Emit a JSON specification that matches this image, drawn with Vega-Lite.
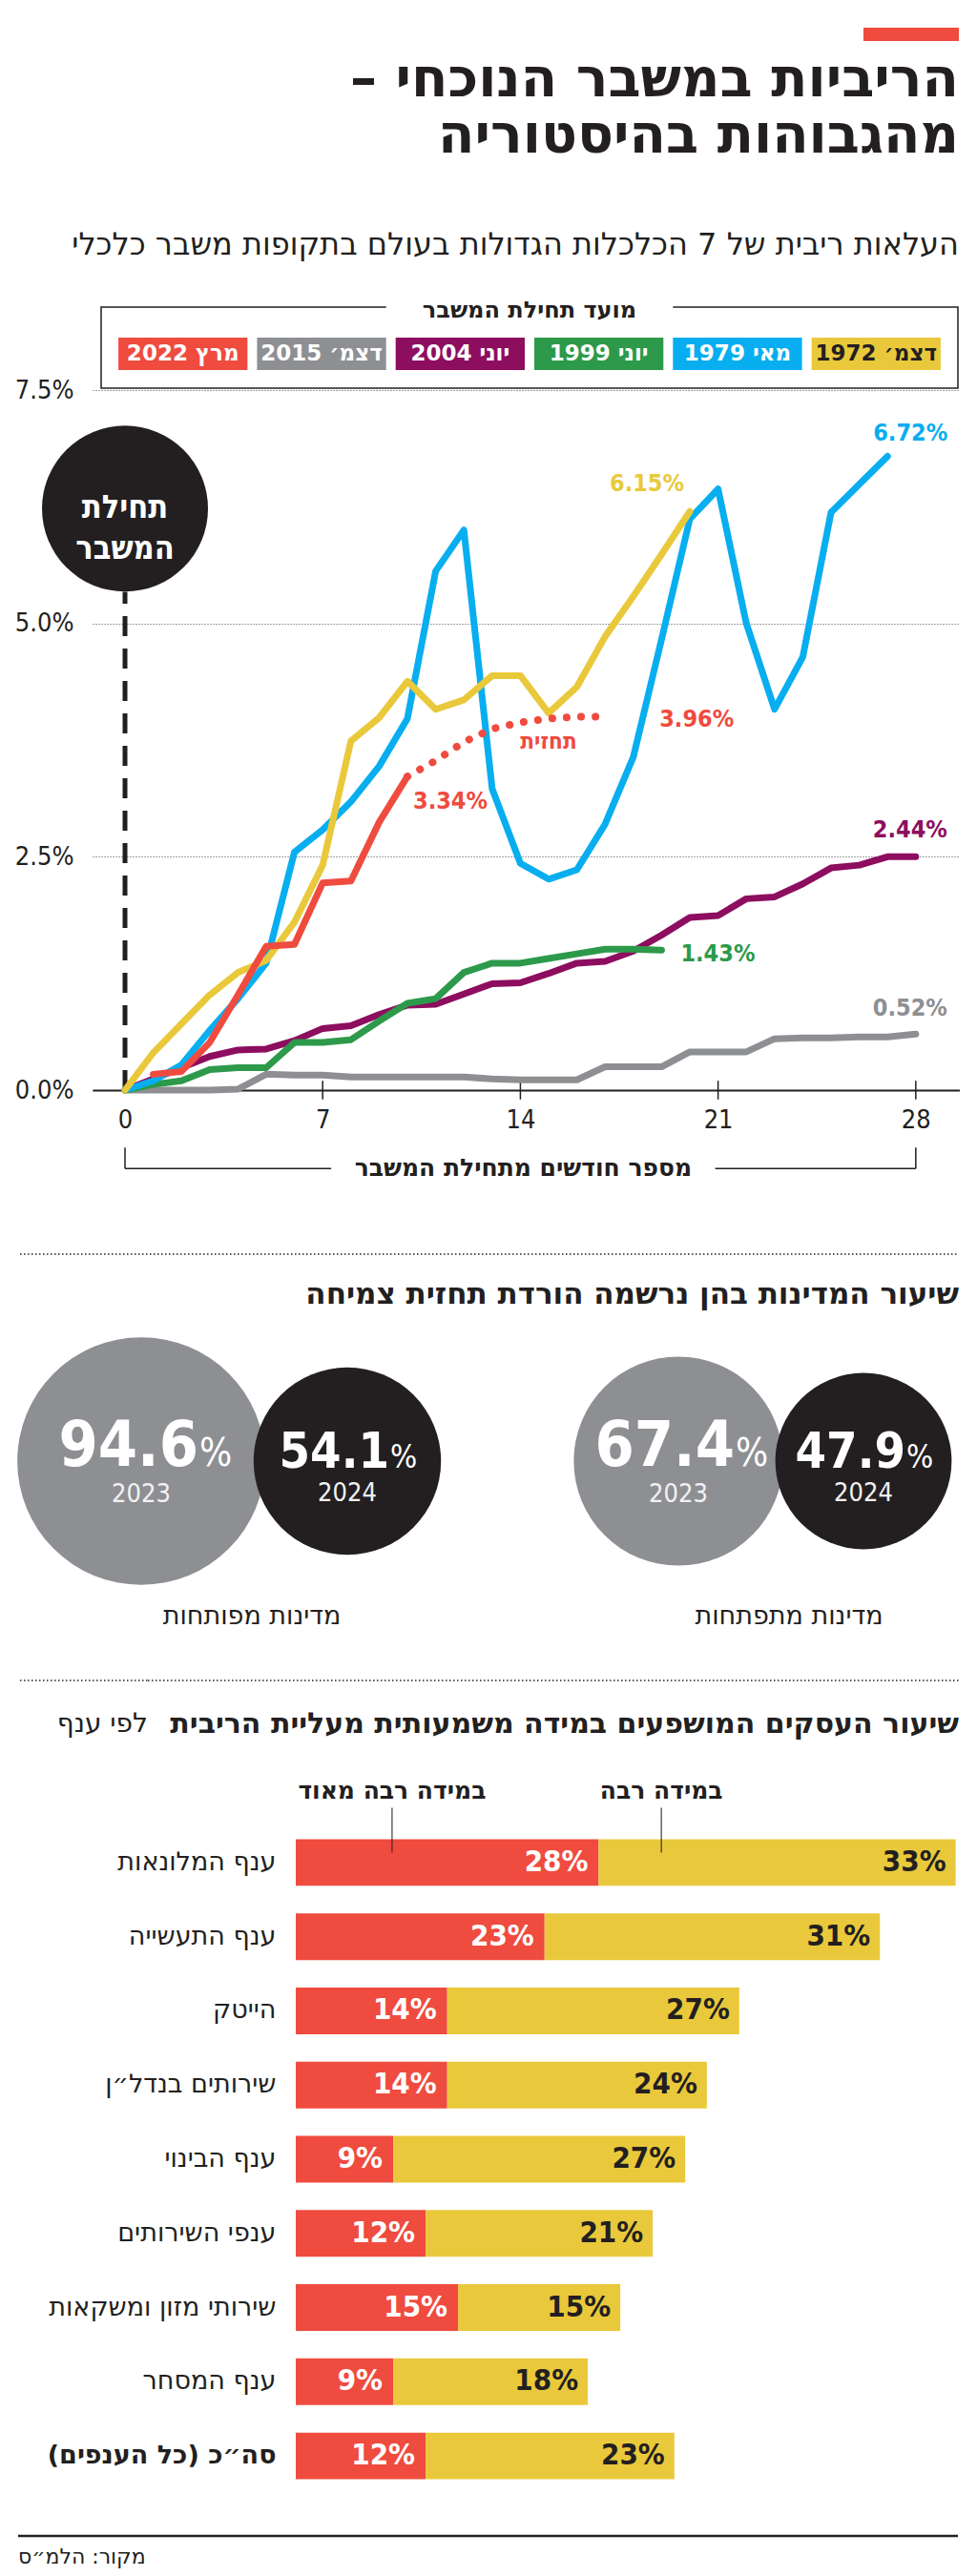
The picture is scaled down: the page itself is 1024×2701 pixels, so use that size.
{
"$schema": "https://vega.github.io/schema/vega-lite/v6.json",
"background": "#ffffff",
"padding": 0,
"bounds": "flush",
"spacing": 0,
"resolve": {"scale": {"color": "independent", "size": "independent"}},
"config": {
  "view": {"stroke": null},
  "font": "DejaVu Sans Condensed",
  "concat": {"spacing": 0},
  "title": {"font": "DejaVu Sans", "color": "#231f20", "frame": "group"},
  "axis": {"labelFont": "DejaVu Sans Condensed", "titleFont": "DejaVu Sans Condensed"},
  "text": {"font": "DejaVu Sans Condensed"}
},
"datasets": {
  "lines": [
    {"m":0,"דצמ׳ 2015":0,"יוני 2004":0,"יוני 1999":0,"מאי 1979":0,"דצמ׳ 1972":0},
    {"m":1,"דצמ׳ 2015":0,"יוני 2004":0.12,"יוני 1999":0.06,"מאי 1979":0.10,"דצמ׳ 1972":0.40,"מרץ 2022":0.17},
    {"m":2,"דצמ׳ 2015":0,"יוני 2004":0.24,"יוני 1999":0.10,"מאי 1979":0.27,"דצמ׳ 1972":0.71,"מרץ 2022":0.20},
    {"m":3,"דצמ׳ 2015":0,"יוני 2004":0.36,"יוני 1999":0.22,"מאי 1979":0.64,"דצמ׳ 1972":1.02,"מרץ 2022":0.51},
    {"m":4,"דצמ׳ 2015":0.01,"יוני 2004":0.43,"יוני 1999":0.24,"מאי 1979":0.98,"דצמ׳ 1972":1.26,"מרץ 2022":1.02},
    {"m":5,"דצמ׳ 2015":0.17,"יוני 2004":0.44,"יוני 1999":0.24,"מאי 1979":1.36,"דצמ׳ 1972":1.39,"מרץ 2022":1.54},
    {"m":6,"דצמ׳ 2015":0.16,"יוני 2004":0.53,"יוני 1999":0.51,"מאי 1979":2.55,"דצמ׳ 1972":1.80,"מרץ 2022":1.56},
    {"m":7,"דצמ׳ 2015":0.16,"יוני 2004":0.66,"יוני 1999":0.51,"מאי 1979":2.79,"דצמ׳ 1972":2.41,"מרץ 2022":2.22},
    {"m":8,"דצמ׳ 2015":0.14,"יוני 2004":0.69,"יוני 1999":0.54,"מאי 1979":3.09,"דצמ׳ 1972":3.74,"מרץ 2022":2.24},
    {"m":9,"דצמ׳ 2015":0.14,"יוני 2004":0.81,"יוני 1999":0.74,"מאי 1979":3.47,"דצמ׳ 1972":3.99,"מרץ 2022":2.87},
    {"m":10,"דצמ׳ 2015":0.14,"יוני 2004":0.91,"יוני 1999":0.93,"מאי 1979":3.98,"דצמ׳ 1972":4.38,"מרץ 2022":3.36},
    {"m":11,"דצמ׳ 2015":0.14,"יוני 2004":0.92,"יוני 1999":0.98,"מאי 1979":5.56,"דצמ׳ 1972":4.08},
    {"m":12,"דצמ׳ 2015":0.14,"יוני 2004":1.03,"יוני 1999":1.26,"מאי 1979":6.00,"דצמ׳ 1972":4.18},
    {"m":13,"דצמ׳ 2015":0.12,"יוני 2004":1.14,"יוני 1999":1.36,"מאי 1979":3.23,"דצמ׳ 1972":4.44},
    {"m":14,"דצמ׳ 2015":0.11,"יוני 2004":1.15,"יוני 1999":1.36,"מאי 1979":2.43,"דצמ׳ 1972":4.44},
    {"m":15,"דצמ׳ 2015":0.11,"יוני 2004":1.25,"יוני 1999":1.41,"מאי 1979":2.26,"דצמ׳ 1972":4.04},
    {"m":16,"דצמ׳ 2015":0.11,"יוני 2004":1.36,"יוני 1999":1.46,"מאי 1979":2.36,"דצמ׳ 1972":4.32},
    {"m":17,"דצמ׳ 2015":0.25,"יוני 2004":1.38,"יוני 1999":1.51,"מאי 1979":2.85,"דצמ׳ 1972":4.86},
    {"m":18,"דצמ׳ 2015":0.25,"יוני 2004":1.49,"יוני 1999":1.51,"מאי 1979":3.57,"דצמ׳ 1972":5.29},
    {"m":19,"דצמ׳ 2015":0.25,"יוני 2004":1.66,"יוני 1999":1.50,"מאי 1979":4.83,"דצמ׳ 1972":5.74},
    {"m":20,"דצמ׳ 2015":0.41,"יוני 2004":1.85,"מאי 1979":6.12,"דצמ׳ 1972":6.20},
    {"m":21,"דצמ׳ 2015":0.41,"יוני 2004":1.87,"מאי 1979":6.44},
    {"m":22,"דצמ׳ 2015":0.41,"יוני 2004":2.05,"מאי 1979":5.00},
    {"m":23,"דצמ׳ 2015":0.55,"יוני 2004":2.07,"מאי 1979":4.08},
    {"m":24,"דצמ׳ 2015":0.56,"יוני 2004":2.21,"מאי 1979":4.64},
    {"m":25,"דצמ׳ 2015":0.56,"יוני 2004":2.38,"מאי 1979":6.19},
    {"m":26,"דצמ׳ 2015":0.57,"יוני 2004":2.41,"מאי 1979":6.49},
    {"m":27,"דצמ׳ 2015":0.57,"יוני 2004":2.50,"מאי 1979":6.79},
    {"m":28,"דצמ׳ 2015":0.60,"יוני 2004":2.50}
  ],
  "forecast": [
    {"m":10,"v":3.36},{"m":11,"v":3.53},{"m":12,"v":3.73},{"m":13,"v":3.87},
    {"m":14,"v":3.94},{"m":15,"v":3.98},{"m":16,"v":4.0},{"m":17,"v":4.0}
  ],
  "labels": [
    {"s":"מאי 1979","label":"6.72%","m":27,"v":6.79},
    {"s":"דצמ׳ 1972","label":"6.15%","m":20,"v":6.20},
    {"s":"מרץ 2022","label":"3.96%","m":17,"v":4.0},
    {"s":"מרץ 2022","label":"3.34%","m":10,"v":3.36},
    {"s":"יוני 2004","label":"2.44%","m":28,"v":2.50},
    {"s":"יוני 1999","label":"1.43%","m":19,"v":1.50},
    {"s":"דצמ׳ 2015","label":"0.52%","m":28,"v":0.60},
    {"s":"מרץ 2022","label":"תחזית","m":15,"v":3.98}
  ],
  "legend": [
    {"s":"מרץ 2022"},{"s":"דצמ׳ 2015"},{"s":"יוני 2004"},{"s":"יוני 1999"},{"s":"מאי 1979"},{"s":"דצמ׳ 1972"}
  ],
  "bubbles": [
    {"g":"מדינות מפותחות","year":"2023","value":94.6},
    {"g":"מדינות מפותחות","year":"2024","value":54.1},
    {"g":"מדינות מתפתחות","year":"2023","value":67.4},
    {"g":"מדינות מתפתחות","year":"2024","value":47.9}
  ],
  "bars": [
    {"cat":"ענף המלונאות","very":0.28,"much":0.33},
    {"cat":"ענף התעשייה","very":0.23,"much":0.31},
    {"cat":"הייטק","very":0.14,"much":0.27},
    {"cat":"שירותים בנדל״ן","very":0.14,"much":0.24},
    {"cat":"ענף הבינוי","very":0.09,"much":0.27},
    {"cat":"ענפי השירותים","very":0.12,"much":0.21},
    {"cat":"שירותי מזון ומשקאות","very":0.15,"much":0.15},
    {"cat":"ענף המסחר","very":0.09,"much":0.18},
    {"cat":"סה״כ (כל הענפים)\u200f","very":0.12,"much":0.23}
  ]
},
"vconcat": [
  {"width": 10, "height": 29, "data": {"values": []}, "mark": "point"},
  {"hconcat": [
    {"width": 905, "height": 14, "data": {"values": []}, "mark": "point"},
    {"width": 100, "height": 14, "view": {"fill": "#ef4b3f", "stroke": null},
     "data": {"values": []}, "mark": "point",
     "title": {"text": ["הריביות במשבר הנוכחי –\u200f", "מהגבוהות בהיסטוריה"],
       "subtitle": "העלאות ריבית של 7 הכלכלות הגדולות בעולם בתקופות משבר כלכלי",
       "orient": "bottom", "anchor": "end", "frame": "group", "offset": 14,
       "font": "DejaVu Sans", "fontSize": 56, "fontWeight": "bold", "lineHeight": 59,
       "subtitleFont": "DejaVu Sans", "subtitleFontSize": 32, "subtitleColor": "#231f20",
       "subtitleFontWeight": "normal", "subtitlePadding": 70}}
  ], "bounds": "flush", "spacing": 0},
  {"width": 10, "height": 293, "data": {"values": []}, "mark": "point"},
  {"hconcat": [
    {"width": 106, "height": 85, "data": {"values": []}, "mark": "point"},
    {"width": 898, "height": 85,
     "view": {"stroke": "#231f20", "strokeWidth": 1.5},
     "title": {"text": "מועד תחילת המשבר", "orient": "top", "anchor": "middle", "frame": "group", "offset": -28, "font": "DejaVu Sans", "fontSize": 24, "fontWeight": "bold"},
     "layer": [
       {"data": {"values": [{}]}, "mark": {"type": "rect", "color": "#ffffff"},
        "encoding": {
          "x": {"datum": "דצמ׳ 2015", "type": "nominal", "bandPosition": 1,
                "scale": {"type": "band", "domain": ["מרץ 2022","דצמ׳ 2015","יוני 2004","יוני 1999","מאי 1979","דצמ׳ 1972"], "paddingInner": 0.069, "paddingOuter": 0.1245}, "axis": null},
          "x2": {"datum": "מאי 1979", "bandPosition": 0},
          "y": {"value": -12}, "y2": {"value": 12}}},
       {"data": {"name": "legend"}, "mark": {"type": "rect"},
        "encoding": {
          "x": {"field": "s", "type": "nominal", "scale": {"type": "band", "domain": ["מרץ 2022","דצמ׳ 2015","יוני 2004","יוני 1999","מאי 1979","דצמ׳ 1972"], "paddingInner": 0.069, "paddingOuter": 0.1245}, "axis": null},
          "y": {"datum": "row", "type": "nominal", "scale": {"type": "band", "domain": ["row"], "paddingInner": 0, "paddingOuter": 0.75, "align": 0.627}, "axis": null},
          "color": {"field": "s", "type": "nominal", "scale": {"domain": ["דצמ׳ 1972","מאי 1979","יוני 1999","יוני 2004","דצמ׳ 2015","מרץ 2022"], "range": ["#e9c93b","#08aeef","#2c9a4a","#8d0d5f","#8e8f93","#ef4b3f"]}, "legend": null}}},
       {"data": {"name": "legend"}, "transform": [{"filter": {"not": {"field": "s", "equal": "דצמ׳ 1972"}}}],
        "mark": {"type": "text", "font": "DejaVu Sans", "color": "#ffffff", "fontSize": 23, "fontWeight": "bold", "baseline": "middle"},
        "encoding": {"x": {"field": "s", "type": "nominal"}, "y": {"datum": "row", "type": "nominal"}, "text": {"field": "s"}}},
       {"data": {"name": "legend"}, "transform": [{"filter": {"field": "s", "equal": "דצמ׳ 1972"}}],
        "mark": {"type": "text", "font": "DejaVu Sans", "color": "#231f20", "fontSize": 23, "fontWeight": "bold", "baseline": "middle"},
        "encoding": {"x": {"field": "s", "type": "nominal"}, "y": {"datum": "row", "type": "nominal"}, "text": {"field": "s"}}}
     ]}
  ], "bounds": "flush", "spacing": 0},
  {"width": 10, "height": 87, "data": {"values": []}, "mark": "point"},
  {"hconcat": [
    {"width": 97, "height": 734, "data": {"values": []}, "mark": "point"},
    {"width": 909, "height": 734,
     "layer": [
       {"data": {"values": [{}]}, "mark": {"type": "rule", "color": "#231f20", "strokeWidth": 5, "strokeDash": [21, 13]},
        "encoding": {
          "x": {"datum": 0, "type": "quantitative", "scale": {"domain": [-1.149, 29.56], "nice": false, "zero": false},
                "axis": {"values": [0,7,14,21,28], "ticks": false, "grid": false, "domainColor": "#231f20", "domainWidth": 2, "labelFontSize": 27, "labelColor": "#231f20", "labelPadding": 18, "labelFlush": false, "title": null}},
          "y": {"datum": 0, "type": "quantitative", "scale": {"domain": [0, 7.5], "nice": false, "zero": false},
                "axis": {"values": [0, 2.5, 5, 7.5], "labelExpr": "format(datum.value, '.1f') + '%'", "domain": false, "ticks": false, "grid": true, "gridDash": [1, 2], "gridColor": "#444444", "gridWidth": 1, "labelFontSize": 27, "labelColor": "#231f20", "labelPadding": 20, "title": null}},
          "y2": {"datum": 5.34}}},
       {"data": {"values": [{}]}, "mark": {"type": "point", "shape": "circle", "filled": true, "opacity": 1, "size": 30276, "color": "#231f20"},
        "encoding": {"x": {"datum": 0, "type": "quantitative"}, "y": {"datum": 6.23, "type": "quantitative"}}},
       {"data": {"values": [{}]}, "mark": {"type": "text", "text": ["תחילת", "המשבר"], "color": "#ffffff", "fontSize": 34, "fontWeight": "bold", "lineHeight": 43, "baseline": "middle", "align": "center"},
        "encoding": {"x": {"datum": 0, "type": "quantitative"}, "y": {"datum": 6.23, "type": "quantitative"}}},
       {"data": {"values": [{"m":7},{"m":14},{"m":21},{"m":28}]}, "mark": {"type": "rule", "color": "#231f20", "strokeWidth": 1.5},
        "encoding": {"x": {"field": "m", "type": "quantitative"}, "y": {"datum": -0.1, "type": "quantitative"}, "y2": {"datum": 0.1}}},
       {"data": {"values": [{}]}, "mark": {"type": "rule", "color": "#231f20", "strokeWidth": 1.5},
        "encoding": {"x": {"datum": 0, "type": "quantitative"}, "x2": {"datum": 7.3}, "y": {"datum": -0.84, "type": "quantitative"}}},
       {"data": {"values": [{}]}, "mark": {"type": "rule", "color": "#231f20", "strokeWidth": 1.5},
        "encoding": {"x": {"datum": 20.9, "type": "quantitative"}, "x2": {"datum": 28}, "y": {"datum": -0.84, "type": "quantitative"}}},
       {"data": {"values": [{}]}, "mark": {"type": "rule", "color": "#231f20", "strokeWidth": 1.5},
        "encoding": {"x": {"datum": 0, "type": "quantitative"}, "y": {"datum": -0.84, "type": "quantitative"}, "y2": {"datum": -0.615}}},
       {"data": {"values": [{}]}, "mark": {"type": "rule", "color": "#231f20", "strokeWidth": 1.5},
        "encoding": {"x": {"datum": 28, "type": "quantitative"}, "y": {"datum": -0.84, "type": "quantitative"}, "y2": {"datum": -0.615}}},
       {"data": {"values": [{}]}, "mark": {"type": "text", "text": "מספר חודשים מתחילת המשבר", "font": "DejaVu Sans", "color": "#231f20", "fontSize": 25, "fontWeight": "bold", "baseline": "middle", "align": "center"},
        "encoding": {"x": {"datum": 14.1, "type": "quantitative"}, "y": {"datum": -0.84, "type": "quantitative"}}},
       {"data": {"name": "lines"},
        "transform": [{"fold": ["דצמ׳ 2015","יוני 2004","יוני 1999","מאי 1979","דצמ׳ 1972","מרץ 2022"], "as": ["s", "v"]}, {"filter": {"field": "v", "valid": true}}],
        "mark": {"type": "line", "strokeWidth": 7, "strokeCap": "round", "strokeJoin": "round"},
        "encoding": {
          "x": {"field": "m", "type": "quantitative"},
          "y": {"field": "v", "type": "quantitative"},
          "color": {"field": "s", "type": "nominal", "sort": null, "scale": {"domain": ["דצמ׳ 1972","מאי 1979","יוני 1999","יוני 2004","דצמ׳ 2015","מרץ 2022"], "range": ["#e9c93b","#08aeef","#2c9a4a","#8d0d5f","#8e8f93","#ef4b3f"]}, "legend": null}}},
       {"data": {"name": "forecast"}, "mark": {"type": "line", "color": "#ef4b3f", "strokeWidth": 8, "strokeCap": "round", "strokeDash": [0.1, 15]},
        "encoding": {"x": {"field": "m", "type": "quantitative"}, "y": {"field": "v", "type": "quantitative"}}},
       {"data": {"name": "labels"}, "transform": [{"filter": {"field": "label", "equal": "6.72%"}}],
        "mark": {"type": "text", "fontSize": 25, "fontWeight": "bold", "dx": 24, "dy": -24},
        "encoding": {"x": {"field": "m", "type": "quantitative"}, "y": {"field": "v", "type": "quantitative"}, "text": {"field": "label"}, "color": {"field": "s", "type": "nominal", "legend": null}}},
       {"data": {"name": "labels"}, "transform": [{"filter": {"field": "label", "equal": "6.15%"}}],
        "mark": {"type": "text", "fontSize": 25, "fontWeight": "bold", "dx": -45, "dy": -29},
        "encoding": {"x": {"field": "m", "type": "quantitative"}, "y": {"field": "v", "type": "quantitative"}, "text": {"field": "label"}, "color": {"field": "s", "type": "nominal", "legend": null}}},
       {"data": {"name": "labels"}, "transform": [{"filter": {"field": "label", "equal": "3.96%"}}],
        "mark": {"type": "text", "fontSize": 25, "fontWeight": "bold", "dx": 96, "dy": 2},
        "encoding": {"x": {"field": "m", "type": "quantitative"}, "y": {"field": "v", "type": "quantitative"}, "text": {"field": "label"}, "color": {"field": "s", "type": "nominal", "legend": null}}},
       {"data": {"name": "labels"}, "transform": [{"filter": {"field": "label", "equal": "3.34%"}}],
        "mark": {"type": "text", "fontSize": 25, "fontWeight": "bold", "dx": 45, "dy": 26},
        "encoding": {"x": {"field": "m", "type": "quantitative"}, "y": {"field": "v", "type": "quantitative"}, "text": {"field": "label"}, "color": {"field": "s", "type": "nominal", "legend": null}}},
       {"data": {"name": "labels"}, "transform": [{"filter": {"field": "label", "equal": "2.44%"}}],
        "mark": {"type": "text", "fontSize": 25, "fontWeight": "bold", "dx": -6, "dy": -28},
        "encoding": {"x": {"field": "m", "type": "quantitative"}, "y": {"field": "v", "type": "quantitative"}, "text": {"field": "label"}, "color": {"field": "s", "type": "nominal", "legend": null}}},
       {"data": {"name": "labels"}, "transform": [{"filter": {"field": "label", "equal": "1.43%"}}],
        "mark": {"type": "text", "fontSize": 25, "fontWeight": "bold", "dx": 59, "dy": 4},
        "encoding": {"x": {"field": "m", "type": "quantitative"}, "y": {"field": "v", "type": "quantitative"}, "text": {"field": "label"}, "color": {"field": "s", "type": "nominal", "legend": null}}},
       {"data": {"name": "labels"}, "transform": [{"filter": {"field": "label", "equal": "0.52%"}}],
        "mark": {"type": "text", "fontSize": 25, "fontWeight": "bold", "dx": -6, "dy": -27},
        "encoding": {"x": {"field": "m", "type": "quantitative"}, "y": {"field": "v", "type": "quantitative"}, "text": {"field": "label"}, "color": {"field": "s", "type": "nominal", "legend": null}}},
       {"data": {"name": "labels"}, "transform": [{"filter": {"field": "label", "equal": "תחזית"}}],
        "mark": {"type": "text", "fontSize": 24, "fontWeight": "bold", "dx": 0, "dy": 25},
        "encoding": {"x": {"field": "m", "type": "quantitative"}, "y": {"field": "v", "type": "quantitative"}, "text": {"field": "label"}, "color": {"field": "s", "type": "nominal", "legend": null}}}
     ]}
  ], "bounds": "flush", "spacing": 0},
  {"width": 10, "height": 906, "data": {"values": []}, "mark": "point"},
  {"hconcat": [
    {"width": 21, "height": 1, "data": {"values": []}, "mark": "point"},
    {"width": 984, "height": 1, "data": {"values": [{}]},
     "mark": {"type": "rule", "color": "#231f20", "strokeWidth": 1.5, "strokeDash": [1.5, 2.5]},
     "encoding": {"x": {"value": 0}, "x2": {"value": "width"}, "y": {"value": 0}},
     "title": {"text": "שיעור המדינות בהן נרשמה הורדת תחזית צמיחה", "orient": "bottom", "anchor": "end", "frame": "group", "offset": 27, "fontSize": 31, "fontWeight": "bold"}}
  ], "bounds": "flush", "spacing": 0},
  {"width": 10, "height": 77, "data": {"values": []}, "mark": "point"},
  {"hconcat": [
    {"width": 40, "height": 280, "data": {"values": []}, "mark": "point"},
    {"width": 432, "height": 280, "data": {"name": "bubbles"},
     "transform": [{"filter": {"field": "g", "equal": "מדינות מפותחות"}}],
     "title": {"text": "מדינות מפותחות", "orient": "bottom", "anchor": "middle", "frame": "group", "offset": 10, "fontSize": 27, "fontWeight": "normal", "dx": 8},
     "encoding": {"x": {"field": "year", "type": "ordinal", "scale": {"type": "point", "padding": 0.5}, "axis": null}},
     "layer": [
       {"mark": {"type": "circle", "opacity": 1},
        "encoding": {"size": {"field": "value", "type": "quantitative", "scale": {"domain": [0, 100], "range": [0, 71300]}, "legend": null},
                     "color": {"field": "year", "type": "nominal", "scale": {"domain": ["2023","2024"], "range": ["#8e8f93","#231f20"]}, "legend": null}}},
       {"transform": [{"filter": {"field": "year", "equal": "2023"}}], "mark": {"type": "text", "fontSize": 66, "fontWeight": "bold", "color": "#ffffff", "align": "right", "baseline": "alphabetic", "dx": 60, "dy": 5},
        "encoding": {"text": {"field": "value", "type": "quantitative", "format": ".1f"}}},
       {"transform": [{"filter": {"field": "year", "equal": "2023"}}], "mark": {"type": "text", "text": "%", "fontSize": 40, "color": "#ffffff", "align": "left", "baseline": "alphabetic", "dx": 61, "dy": 5}},
       {"transform": [{"filter": {"field": "year", "equal": "2023"}}], "mark": {"type": "text", "fontSize": 27, "color": "#f2f2f2", "baseline": "alphabetic", "dy": 43},
        "encoding": {"text": {"field": "year"}}},
       {"transform": [{"filter": {"field": "year", "equal": "2024"}}], "mark": {"type": "text", "fontSize": 52, "fontWeight": "bold", "color": "#ffffff", "align": "right", "baseline": "alphabetic", "dx": 44, "dy": 7},
        "encoding": {"text": {"field": "value", "type": "quantitative", "format": ".1f"}}},
       {"transform": [{"filter": {"field": "year", "equal": "2024"}}], "mark": {"type": "text", "text": "%", "fontSize": 33, "color": "#ffffff", "align": "left", "baseline": "alphabetic", "dx": 45, "dy": 7}},
       {"transform": [{"filter": {"field": "year", "equal": "2024"}}], "mark": {"type": "text", "fontSize": 27, "color": "#f2f2f2", "baseline": "alphabetic", "dy": 42},
        "encoding": {"text": {"field": "year"}}}
     ]},
    {"width": 142, "height": 280, "data": {"values": []}, "mark": "point"},
    {"width": 388, "height": 280, "data": {"name": "bubbles"},
     "transform": [{"filter": {"field": "g", "equal": "מדינות מתפתחות"}}],
     "title": {"text": "מדינות מתפתחות", "orient": "bottom", "anchor": "middle", "frame": "group", "offset": 10, "fontSize": 27, "fontWeight": "normal", "dx": 19},
     "encoding": {"x": {"field": "year", "type": "ordinal", "scale": {"type": "point", "padding": 0.5}, "axis": null}},
     "layer": [
       {"mark": {"type": "circle", "opacity": 1},
        "encoding": {"size": {"field": "value", "type": "quantitative", "scale": {"domain": [0, 100], "range": [0, 71300]}, "legend": null},
                     "color": {"field": "year", "type": "nominal", "scale": {"domain": ["2023","2024"], "range": ["#8e8f93","#231f20"]}, "legend": null}}},
       {"transform": [{"filter": {"field": "year", "equal": "2023"}}], "mark": {"type": "text", "fontSize": 66, "fontWeight": "bold", "color": "#ffffff", "align": "right", "baseline": "alphabetic", "dx": 59, "dy": 5},
        "encoding": {"text": {"field": "value", "type": "quantitative", "format": ".1f"}}},
       {"transform": [{"filter": {"field": "year", "equal": "2023"}}], "mark": {"type": "text", "text": "%", "fontSize": 40, "color": "#ffffff", "align": "left", "baseline": "alphabetic", "dx": 60, "dy": 5}},
       {"transform": [{"filter": {"field": "year", "equal": "2023"}}], "mark": {"type": "text", "fontSize": 27, "color": "#f2f2f2", "baseline": "alphabetic", "dy": 43},
        "encoding": {"text": {"field": "year"}}},
       {"transform": [{"filter": {"field": "year", "equal": "2024"}}], "mark": {"type": "text", "fontSize": 52, "fontWeight": "bold", "color": "#ffffff", "align": "right", "baseline": "alphabetic", "dx": 44, "dy": 7},
        "encoding": {"text": {"field": "value", "type": "quantitative", "format": ".1f"}}},
       {"transform": [{"filter": {"field": "year", "equal": "2024"}}], "mark": {"type": "text", "text": "%", "fontSize": 33, "color": "#ffffff", "align": "left", "baseline": "alphabetic", "dx": 45, "dy": 7}},
       {"transform": [{"filter": {"field": "year", "equal": "2024"}}], "mark": {"type": "text", "fontSize": 27, "color": "#f2f2f2", "baseline": "alphabetic", "dy": 42},
        "encoding": {"text": {"field": "year"}}}
     ]}
  ], "bounds": "flush", "spacing": 0},
  {"width": 10, "height": 370, "data": {"values": []}, "mark": "point"},
  {"hconcat": [
    {"width": 21, "height": 1, "data": {"values": []}, "mark": "point"},
    {"width": 134, "height": 1, "data": {"values": [{}]},
     "mark": {"type": "rule", "color": "#231f20", "strokeWidth": 1.5, "strokeDash": [1.5, 2.5]},
     "encoding": {"x": {"value": 0}, "x2": {"value": "width"}, "y": {"value": 0}},
     "title": {"text": "לפי ענף", "orient": "bottom", "anchor": "end", "frame": "group", "offset": 31, "fontSize": 28, "fontWeight": "normal"}},
    {"width": 850, "height": 1, "data": {"values": [{}]},
     "mark": {"type": "rule", "color": "#231f20", "strokeWidth": 1.5, "strokeDash": [1.5, 2.5]},
     "encoding": {"x": {"value": 0}, "x2": {"value": "width"}, "y": {"value": 0}},
     "title": {"text": "שיעור העסקים המושפעים במידה משמעותית מעליית הריבית", "orient": "bottom", "anchor": "end", "frame": "group", "offset": 30, "fontSize": 30, "fontWeight": "bold"}}
  ], "bounds": "flush", "spacing": 0},
  {"width": 10, "height": 151.5, "data": {"values": []}, "mark": "point"},
  {"hconcat": [
    {"width": 310, "height": 700, "data": {"values": []}, "mark": "point"},
    {"width": 695, "height": 700,
     "layer": [
       {"data": {"name": "bars"},
        "transform": [{"fold": ["very", "much"], "as": ["lvl", "val"]}, {"stack": "val", "groupby": ["cat"], "sort": [{"field": "lvl", "order": "descending"}], "as": ["x0", "x1"]}],
        "mark": {"type": "bar"},
        "encoding": {
          "y": {"field": "cat", "type": "nominal", "sort": null, "scale": {"paddingInner": 0.371, "paddingOuter": 0.1855},
                "axis": {"title": null, "ticks": false, "domain": false, "labelFont": "DejaVu Sans", "labelFontSize": 27, "labelPadding": 21, "labelColor": "#231f20", "labelLimit": 0,
                         "labelFontWeight": {"condition": {"test": "datum.value == 'סה״כ (כל הענפים)\u200f'", "value": "bold"}, "value": "normal"}}},
          "x": {"field": "x0", "type": "quantitative", "scale": {"domain": [0, 0.613], "nice": false, "zero": true}, "axis": null},
          "x2": {"field": "x1"},
          "color": {"field": "lvl", "type": "nominal", "scale": {"domain": ["very", "much"], "range": ["#ef4b3f", "#e9c93b"]}, "legend": null}}},
       {"data": {"name": "bars"},
        "transform": [{"fold": ["very", "much"], "as": ["lvl", "val"]}, {"stack": "val", "groupby": ["cat"], "sort": [{"field": "lvl", "order": "descending"}], "as": ["x0", "x1"]}, {"filter": {"field": "lvl", "equal": "very"}}],
        "mark": {"type": "text", "align": "right", "baseline": "middle", "dx": -11, "fontSize": 31, "fontWeight": "bold", "color": "#ffffff"},
        "encoding": {"y": {"field": "cat", "type": "nominal", "sort": null}, "x": {"field": "x1", "type": "quantitative"}, "text": {"field": "val", "type": "quantitative", "format": ".0%"}}},
       {"data": {"name": "bars"},
        "transform": [{"fold": ["very", "much"], "as": ["lvl", "val"]}, {"stack": "val", "groupby": ["cat"], "sort": [{"field": "lvl", "order": "descending"}], "as": ["x0", "x1"]}, {"filter": {"field": "lvl", "equal": "much"}}],
        "mark": {"type": "text", "align": "right", "baseline": "middle", "dx": -10, "fontSize": 31, "fontWeight": "bold", "color": "#231f20"},
        "encoding": {"y": {"field": "cat", "type": "nominal", "sort": null}, "x": {"field": "x1", "type": "quantitative"}, "text": {"field": "val", "type": "quantitative", "format": ".0%"}}},
       {"data": {"values": [{}]}, "mark": {"type": "tick", "orient": "vertical", "size": 47, "thickness": 1.5, "yOffset": -34, "color": "#231f20"},
        "encoding": {"x": {"datum": 0.089, "type": "quantitative"}, "y": {"datum": "ענף המלונאות", "type": "nominal"}}},
       {"data": {"values": [{}]}, "mark": {"type": "tick", "orient": "vertical", "size": 47, "thickness": 1.5, "yOffset": -34, "color": "#231f20"},
        "encoding": {"x": {"datum": 0.338, "type": "quantitative"}, "y": {"datum": "ענף המלונאות", "type": "nominal"}}},
       {"data": {"values": [{}]}, "mark": {"type": "text", "text": "במידה רבה מאוד", "font": "DejaVu Sans", "fontSize": 25, "fontWeight": "bold", "color": "#231f20", "dy": -75},
        "encoding": {"x": {"datum": 0.089, "type": "quantitative"}, "y": {"datum": "ענף המלונאות", "type": "nominal"}}},
       {"data": {"values": [{}]}, "mark": {"type": "text", "text": "במידה רבה", "font": "DejaVu Sans", "fontSize": 25, "fontWeight": "bold", "color": "#231f20", "dy": -75},
        "encoding": {"x": {"datum": 0.338, "type": "quantitative"}, "y": {"datum": "ענף המלונאות", "type": "nominal"}}}
     ]}
  ], "bounds": "flush", "spacing": 0},
  {"width": 10, "height": 744.5, "data": {"values": []}, "mark": "point"},
  {"hconcat": [
    {"width": 19, "height": 1, "data": {"values": []}, "mark": "point"},
    {"width": 985, "height": 1, "data": {"values": [{}]},
     "mark": {"type": "rule", "color": "#231f20", "strokeWidth": 2.5},
     "encoding": {"x": {"value": 0}, "x2": {"value": "width"}, "y": {"value": 0}},
     "title": {"text": "מקור: הלמ״ס", "orient": "bottom", "anchor": "start", "frame": "group", "offset": 11, "fontSize": 22, "fontWeight": "normal"}}
  ], "bounds": "flush", "spacing": 0},
  {"width": 10, "height": 42, "data": {"values": []}, "mark": "point"}
]
}
